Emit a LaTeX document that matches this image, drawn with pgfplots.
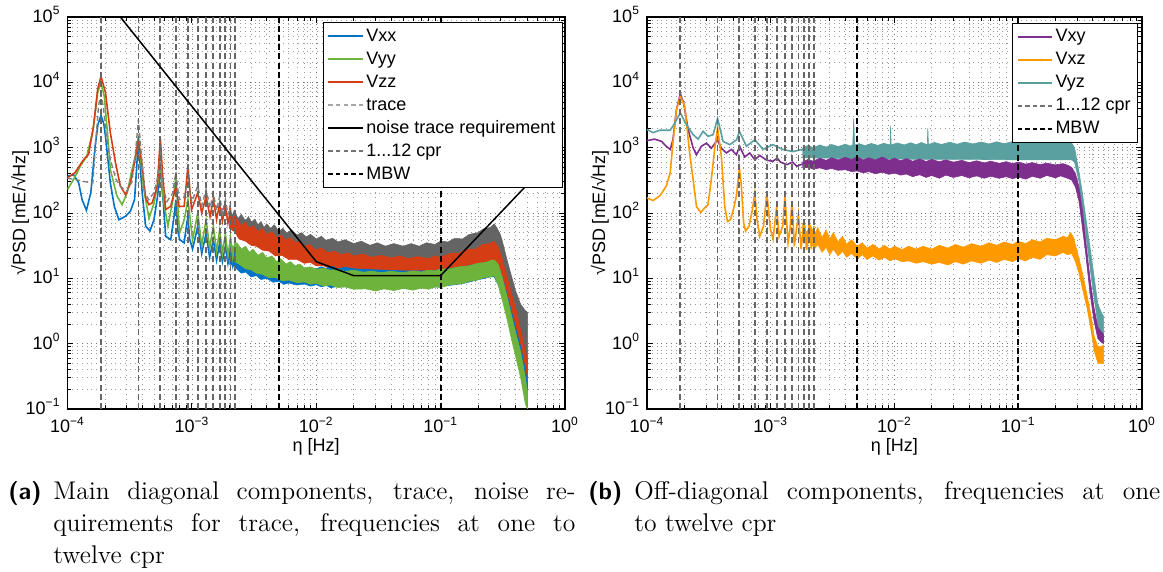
\documentclass[border=0pt]{standalone}
\usepackage{fontspec}
\usepackage{pgfplots}
\pgfplotsset{compat=1.18}
\newfontfamily\helv{Liberation Sans}
\definecolor{vxx}{RGB}{0,114,200}
\definecolor{vyy}{RGB}{110,180,60}
\definecolor{vzz}{RGB}{213,62,20}
\definecolor{trc}{RGB}{100,100,100}
\definecolor{vxy}{RGB}{126,47,142}
\definecolor{vxz}{RGB}{255,153,0}
\definecolor{vyz}{RGB}{90,160,160}
\begin{document}
\begin{tikzpicture}
\useasboundingbox (0,0) rectangle (581.5pt,286pt);
% ---------------- panel (a)
\begin{axis}[scale only axis, width=248.75pt, height=196pt, at={(33.75pt,81.5pt)}, anchor=south west,
  xmode=log, ymode=log, xmin=1e-4, xmax=1, ymin=1e-1, ymax=1e5,
  xtick={1e-4,1e-3,1e-2,1e-1,1},
  xticklabels={10\textsuperscript{−4},10\textsuperscript{−3},10\textsuperscript{−2},10\textsuperscript{−1},10\textsuperscript{0}},
  ytick={1e-1,1,10,100,1000,10000,100000},
  yticklabels={10\textsuperscript{−1},10\textsuperscript{0},10\textsuperscript{1},10\textsuperscript{2},10\textsuperscript{3},10\textsuperscript{4},10\textsuperscript{5}},
  minor xtick={2e-4,3e-4,4e-4,5e-4,6e-4,7e-4,8e-4,9e-4,2e-3,3e-3,4e-3,5e-3,6e-3,7e-3,8e-3,9e-3,2e-2,3e-2,4e-2,5e-2,6e-2,7e-2,8e-2,9e-2,0.2,0.3,0.4,0.5,0.6,0.7,0.8,0.9},
  minor ytick={0.2,0.3,0.4,0.5,0.6,0.7,0.8,0.9,2,3,4,5,6,7,8,9,20,30,40,50,60,70,80,90,200,300,400,500,600,700,800,900,2000,3000,4000,5000,6000,7000,8000,9000,20000,30000,40000,50000,60000,70000,80000,90000},
  grid=both,
  major grid style={dotted, black!55, line width=0.35pt},
  minor grid style={dotted, black!40, line width=0.35pt},
  tick align=inside, major tick length=3pt, minor tick length=1.8pt,
  tick style={black, line width=0.4pt},
  axis line style={line width=0.6pt},
  tick label style={font=\helv\fontsize{9}{10}\selectfont},
  xticklabel style={anchor=center, yshift=-8pt},
  yticklabel style={yshift=1.2pt},
  label style={font=\helv\fontsize{9}{10}\selectfont},
  xlabel={η [Hz]}, ylabel={√PSD [mE/√Hz]},
  xlabel style={at={(axis description cs:0.5,-0.097)}, anchor=center},
  ylabel style={at={(axis description cs:-0.095,0.5)}, anchor=center},
  legend cell align=left,
  legend style={at={(0.996,0.987)}, anchor=north east, draw=black, line width=0.5pt, fill=white,
    inner xsep=2pt, inner ysep=1pt, row sep=0pt,
    nodes={inner sep=1.5pt, text height=6.8pt, text depth=1.7pt},
    font=\helv\fontsize{9}{10}\selectfont}]
% trace band
\addplot[fill=trc, draw=trc, line width=0.3pt, forget plot] coordinates {
(2.0e-3,120)(2.1e-3,90)(2.2e-3,110)(2.35e-3,82)(2.5e-3,95)(2.7e-3,75)(2.85e-3,88)(3e-3,72)(3.2e-3,80)(3.4e-3,66)(3.6e-3,74)(3.8e-3,60)(4e-3,68)(4.3e-3,58)(4.6e-3,66)(5e-3,52)(5.4e-3,58)(5.8e-3,49)(6.3e-3,55)(7e-3,46)(7.6e-3,50)(8.3e-3,43)(9e-3,47)(1e-2,40)(1.1e-2,44)(1.2e-2,38)(1.35e-2,41)(1.5e-2,36)(1.7e-2,39)(2e-2,34)(2.3e-2,37)(2.7e-2,32)(3.1e-2,35)(3.6e-2,31)(4.2e-2,34)(5e-2,31)(5.8e-2,34)(6.7e-2,31)(7.7e-2,35)(9e-2,33)(0.1,37)(0.115,36)(0.13,41)(0.15,40)(0.17,47)(0.2,50)(0.22,57)(0.25,60)(0.27,68)(0.285,58)(0.3,48)(0.31,40)(0.34,20)(0.37,11)(0.4,6.5)(0.44,4)(0.48,3.2)(0.5,3)
(0.5,0.3)(0.48,0.5)(0.44,1.2)(0.4,2.5)(0.37,4)(0.34,7)(0.31,13)(0.29,19)(0.27,24)(0.25,24)(0.2,21)(0.15,18)(0.1,16)(5e-2,15.5)(2e-2,17)(1e-2,20)(5e-3,28)(3e-3,40)(2e-3,60)};
% Vzz band
\addplot[fill=vzz, draw=vzz, line width=0.3pt, forget plot] coordinates {
(2.0e-3,90)(2.15e-3,70)(2.3e-3,82)(2.5e-3,64)(2.7e-3,72)(2.9e-3,58)(3.1e-3,64)(3.4e-3,52)(3.7e-3,58)(4e-3,47)(4.4e-3,52)(4.8e-3,42)(5.2e-3,46)(5.7e-3,38)(6.2e-3,42)(6.8e-3,35)(7.4e-3,37)(8e-3,31)(8.8e-3,33)(1e-2,27)(1.1e-2,29)(1.25e-2,24.5)(1.4e-2,26)(1.6e-2,23)(1.8e-2,24.5)(2e-2,22)(2.4e-2,23.5)(2.8e-2,21)(3.3e-2,22.5)(4e-2,20.5)(4.7e-2,22)(5.5e-2,20)(6.5e-2,21.5)(8e-2,20)(9e-2,22)(0.1,21)(0.12,24)(0.14,24)(0.16,28)(0.19,28)(0.22,33)(0.25,34)(0.27,37)(0.29,30)(0.31,21)(0.34,11)(0.37,6)(0.4,3.5)(0.44,1.6)(0.48,0.8)(0.5,0.55)
(0.5,0.19)(0.48,0.3)(0.44,0.8)(0.4,1.6)(0.37,2.8)(0.34,5)(0.31,9.5)(0.29,14)(0.27,18)(0.25,17)(0.22,17)(0.2,15)(0.17,15)(0.15,13.5)(0.12,13.5)(0.1,12)(8.5e-2,12.5)(7e-2,11.5)(6e-2,12.3)(5e-2,11.5)(4.2e-2,12.3)(3.5e-2,11.8)(3e-2,12.8)(2.5e-2,12.2)(2e-2,13.2)(1.7e-2,13)(1.5e-2,14.2)(1.3e-2,14)(1.15e-2,15.5)(1e-2,15.5)(9e-3,17.5)(8e-3,17)(7e-3,19.5)(6e-3,19.5)(5.3e-3,22.5)(4.7e-3,22)(4.2e-3,26)(3.7e-3,27)(3.3e-3,31)(3e-3,32)(2.7e-3,37)(2.4e-3,40)(2.2e-3,52)(2e-3,58)};
% Vxx band
\addplot[fill=vxx, draw=vxx, line width=0.3pt, forget plot] coordinates {
(2.0e-3,28)(2.5e-3,25)(3e-3,22)(3.6e-3,19)(4e-3,18)(5e-3,16)(6e-3,15)(7e-3,14.5)(8e-3,14)(1e-2,14)(1.1e-2,15)(1.2e-2,14.2)(1.35e-2,15.2)(1.5e-2,14)(1.7e-2,14.8)(2e-2,14)(3e-2,13.5)(5e-2,13)(8e-2,13)(0.1,13.5)(0.15,15)(0.2,16.5)(0.25,18)(0.27,18.5)(0.29,16)(0.31,11)(0.34,6)(0.37,3.2)(0.4,1.8)(0.44,0.9)(0.48,0.4)(0.5,0.25)
(0.5,0.1)(0.48,0.14)(0.44,0.35)(0.4,0.8)(0.37,1.5)(0.34,3)(0.31,5.5)(0.29,8)(0.27,10.5)(0.25,10.5)(0.2,9.5)(0.15,8.3)(0.1,7.5)(8e-2,7.2)(5e-2,7)(3e-2,7)(2e-2,7.3)(1.5e-2,7.5)(1.3e-2,7.2)(1.2e-2,7.8)(1.1e-2,7.4)(1e-2,8)(9e-3,7.6)(8e-3,8.2)(7e-3,7.9)(6e-3,8.5)(5.5e-3,8.1)(5e-3,9)(4.5e-3,8.7)(4e-3,10)(3.6e-3,9.6)(3.3e-3,11)(3e-3,10.5)(2.7e-3,12.5)(2.5e-3,12)(2.2e-3,15)(2e-3,17)};
% Vyy band
\addplot[fill=vyy, draw=vyy, line width=0.3pt, forget plot] coordinates {
(2.0e-3,38)(2.15e-3,30)(2.3e-3,35)(2.5e-3,28)(2.7e-3,31)(2.9e-3,25)(3.1e-3,28)(3.4e-3,22.5)(3.7e-3,25)(4e-3,20.5)(4.4e-3,22)(4.8e-3,18)(5.2e-3,20)(5.7e-3,16.5)(6.2e-3,18)(6.8e-3,15.5)(7.4e-3,16.5)(8e-3,14.5)(9e-3,15)(1e-2,13.8)(1.15e-2,14.3)(1.3e-2,13.3)(1.5e-2,13.8)(1.7e-2,12.8)(2e-2,13.3)(2.4e-2,12.4)(2.8e-2,12.9)(3.3e-2,12.2)(4e-2,12.8)(5e-2,12.2)(6e-2,13)(7e-2,12.5)(8e-2,13.3)(9e-2,13)(0.1,13.8)(0.12,14)(0.14,15)(0.17,15.5)(0.2,17)(0.23,17.5)(0.26,19)(0.27,19)(0.29,16.5)(0.31,11)(0.34,5.5)(0.37,2.8)(0.4,1.5)(0.44,0.75)(0.48,0.3)(0.5,0.18)
(0.5,0.1)(0.48,0.12)(0.44,0.3)(0.4,0.65)(0.37,1.2)(0.34,2.5)(0.31,5)(0.29,8)(0.27,11)(0.25,10.5)(0.22,10.2)(0.2,9.5)(0.17,9)(0.15,8.3)(0.12,8)(0.1,7.2)(9e-2,7.4)(8e-2,6.8)(7e-2,7.1)(6e-2,6.6)(5e-2,7)(4.2e-2,6.5)(3.5e-2,6.9)(3e-2,6.4)(2.5e-2,6.9)(2e-2,6.8)(1.7e-2,7.4)(1.5e-2,7.2)(1.3e-2,7.9)(1.15e-2,7.6)(1e-2,8.4)(9e-3,8.1)(8e-3,8.8)(7e-3,8.6)(6e-3,9.4)(5.3e-3,9.2)(4.7e-3,10.3)(4.2e-3,10.2)(3.7e-3,11.5)(3.3e-3,12)(3e-3,13.5)(2.7e-3,14)(2.4e-3,16.5)(2.2e-3,18)(2e-3,24)};
% low-frequency lines
\addplot[vxx, line width=0.8pt, forget plot] coordinates {
(1.0e-4,365)(1.12e-4,385)(1.23e-4,290)(1.31e-4,160)(1.42e-4,110)(1.54e-4,205)(1.67e-4,1070)(1.76e-4,2300)(1.86e-4,3100)(1.96e-4,2300)(2.02e-4,1500)(2.21e-4,290)(2.38e-4,126)(2.59e-4,79)(2.93e-4,89)(3.21e-4,107)(3.46e-4,160)(3.6e-4,500)(3.72e-4,1450)(3.85e-4,500)(3.99e-4,200)(4.25e-4,63)(4.6e-4,53)(4.96e-4,79)(5.3e-4,180)(5.58e-4,500)(5.8e-4,200)(5.9e-4,140)(6.16e-4,44)(6.76e-4,39)(7.2e-4,90)(7.44e-4,160)(7.75e-4,50)(8.0e-4,39)(8.67e-4,35)(9.0e-4,60)(9.3e-4,89)(9.6e-4,40)(1.013e-3,28)(1.116e-3,63)(1.2e-3,24)(1.302e-3,49)(1.39e-3,21)(1.488e-3,39)(1.58e-3,19)(1.674e-3,35)(1.76e-3,18)(1.86e-3,31)(1.95e-3,17)(2.046e-3,28)(2.13e-3,16)(2.23e-3,26)};
\addplot[vyy, line width=0.8pt, forget plot] coordinates {
(1.0e-4,230)(1.12e-4,325)(1.27e-4,525)(1.43e-4,740)(1.6e-4,1800)(1.75e-4,7000)(1.86e-4,10000)(1.98e-4,6000)(2.1e-4,1600)(2.21e-4,465)(2.5e-4,182)(2.75e-4,134)(3.02e-4,205)(3.31e-4,465)(3.6e-4,900)(3.72e-4,1200)(3.9e-4,600)(4.07e-4,255)(4.52e-4,83)(4.96e-4,141)(5.33e-4,290)(5.58e-4,465)(5.9e-4,160)(6.42e-4,63)(7.0e-4,150)(7.44e-4,345)(7.97e-4,49)(8.7e-4,80)(9.3e-4,160)(1.013e-3,39)(1.116e-3,100)(1.2e-3,32)(1.302e-3,79)(1.39e-3,29)(1.488e-3,63)(1.58e-3,26)(1.674e-3,55)(1.76e-3,24)(1.86e-3,48)(1.95e-3,22)(2.046e-3,42)(2.13e-3,21)(2.23e-3,38)};
\addplot[vzz, line width=0.8pt, forget plot] coordinates {
(1.0e-4,345)(1.15e-4,415)(1.35e-4,660)(1.48e-4,790)(1.62e-4,2150)(1.75e-4,7900)(1.86e-4,12400)(2.02e-4,7000)(2.21e-4,1700)(2.43e-4,590)(2.66e-4,260)(2.93e-4,190)(3.21e-4,290)(3.46e-4,590)(3.72e-4,1350)(3.99e-4,520)(4.25e-4,170)(4.52e-4,134)(4.8e-4,143)(5.27e-4,256)(5.58e-4,1400)(5.8e-4,415)(6.16e-4,113)(6.75e-4,126)(7.44e-4,250)(7.9e-4,126)(8.67e-4,126)(9.3e-4,525)(9.94e-4,112)(1.116e-3,205)(1.2e-3,100)(1.302e-3,180)(1.4e-3,88)(1.488e-3,160)(1.58e-3,80)(1.674e-3,140)(1.76e-3,75)(1.86e-3,130)(1.95e-3,70)(2.046e-3,110)(2.13e-3,62)(2.23e-3,95)};
\addplot[black!50, line width=0.7pt, dash pattern=on 2.5pt off 1.5pt, forget plot] coordinates {
(1.0e-4,340)(1.2e-4,320)(1.4e-4,300)(1.6e-4,290)(1.7e-4,1500)(1.78e-4,4500)(1.86e-4,6500)(1.95e-4,4000)(2.05e-4,1500)(2.21e-4,660)(2.45e-4,330)(2.66e-4,257)(3.0e-4,215)(3.3e-4,300)(3.55e-4,1000)(3.72e-4,2700)(3.9e-4,900)(4.2e-4,200)(4.5e-4,160)(4.96e-4,205)(5.3e-4,350)(5.58e-4,750)(5.85e-4,250)(6.3e-4,150)(7.0e-4,200)(7.44e-4,420)(7.9e-4,160)(8.6e-4,170)(9.3e-4,300)(1.0e-3,150)(1.116e-3,260)(1.2e-3,130)(1.302e-3,230)(1.4e-3,120)(1.488e-3,200)(1.58e-3,110)(1.674e-3,180)(1.76e-3,100)(1.86e-3,160)(1.95e-3,95)(2.05e-3,140)};
% cpr lines
\addplot[black!60, line width=0.9pt, dash pattern=on 3pt off 1.6pt, forget plot] coordinates {(1.86e-4,0.1)(1.86e-4,1e5)};
\addplot[black!60, line width=0.9pt, dash pattern=on 3pt off 1.6pt, forget plot] coordinates {(3.72e-4,0.1)(3.72e-4,1e5)};
\addplot[black!60, line width=0.9pt, dash pattern=on 3pt off 1.6pt, forget plot] coordinates {(5.58e-4,0.1)(5.58e-4,1e5)};
\addplot[black!60, line width=0.9pt, dash pattern=on 3pt off 1.6pt, forget plot] coordinates {(7.44e-4,0.1)(7.44e-4,1e5)};
\addplot[black!60, line width=0.9pt, dash pattern=on 3pt off 1.6pt, forget plot] coordinates {(9.30e-4,0.1)(9.30e-4,1e5)};
\addplot[black!60, line width=0.9pt, dash pattern=on 3pt off 1.6pt, forget plot] coordinates {(1.116e-3,0.1)(1.116e-3,1e5)};
\addplot[black!60, line width=0.9pt, dash pattern=on 3pt off 1.6pt, forget plot] coordinates {(1.302e-3,0.1)(1.302e-3,1e5)};
\addplot[black!60, line width=0.9pt, dash pattern=on 3pt off 1.6pt, forget plot] coordinates {(1.488e-3,0.1)(1.488e-3,1e5)};
\addplot[black!60, line width=0.9pt, dash pattern=on 3pt off 1.6pt, forget plot] coordinates {(1.674e-3,0.1)(1.674e-3,1e5)};
\addplot[black!60, line width=0.9pt, dash pattern=on 3pt off 1.6pt, forget plot] coordinates {(1.86e-3,0.1)(1.86e-3,1e5)};
\addplot[black!60, line width=0.9pt, dash pattern=on 3pt off 1.6pt, forget plot] coordinates {(2.046e-3,0.1)(2.046e-3,1e5)};
\addplot[black!60, line width=0.9pt, dash pattern=on 3pt off 1.6pt, forget plot] coordinates {(2.232e-3,0.1)(2.232e-3,1e5)};
% MBW lines
\addplot[black, line width=1pt, dash pattern=on 3pt off 1.6pt, forget plot] coordinates {(5e-3,0.1)(5e-3,1e5)};
\addplot[black, line width=1pt, dash pattern=on 3pt off 1.6pt, forget plot] coordinates {(1e-1,0.1)(1e-1,1e5)};
% requirement
\addplot[black, line width=0.75pt, forget plot] coordinates {(2.66e-4,1e5)(1e-2,18)(2e-2,11)(0.1,11)(0.5,275)};
\addlegendimage{vxx, line width=0.8pt}\addlegendentry{Vxx}
\addlegendimage{vyy, line width=0.8pt}\addlegendentry{Vyy}
\addlegendimage{vzz, line width=0.8pt}\addlegendentry{Vzz}
\addlegendimage{black!35, line width=0.7pt, dash pattern=on 2.2pt off 1.6pt}\addlegendentry{trace}
\addlegendimage{black, line width=0.7pt}\addlegendentry{noise trace requirement}
\addlegendimage{black!55, line width=0.7pt, dash pattern=on 2.2pt off 1.6pt}\addlegendentry{1...12 cpr}
\addlegendimage{black, line width=0.7pt, dash pattern=on 2.2pt off 1.6pt}\addlegendentry{MBW}
\end{axis}
% ---------------- panel (b)
\begin{axis}[scale only axis, width=247.5pt, height=196pt, at={(323.5pt,81.5pt)}, anchor=south west,
  xmode=log, ymode=log, xmin=1e-4, xmax=1, ymin=1e-1, ymax=1e5,
  xtick={1e-4,1e-3,1e-2,1e-1,1},
  xticklabels={10\textsuperscript{−4},10\textsuperscript{−3},10\textsuperscript{−2},10\textsuperscript{−1},10\textsuperscript{0}},
  ytick={1e-1,1,10,100,1000,10000,100000},
  yticklabels={10\textsuperscript{−1},10\textsuperscript{0},10\textsuperscript{1},10\textsuperscript{2},10\textsuperscript{3},10\textsuperscript{4},10\textsuperscript{5}},
  minor xtick={2e-4,3e-4,4e-4,5e-4,6e-4,7e-4,8e-4,9e-4,2e-3,3e-3,4e-3,5e-3,6e-3,7e-3,8e-3,9e-3,2e-2,3e-2,4e-2,5e-2,6e-2,7e-2,8e-2,9e-2,0.2,0.3,0.4,0.5,0.6,0.7,0.8,0.9},
  minor ytick={0.2,0.3,0.4,0.5,0.6,0.7,0.8,0.9,2,3,4,5,6,7,8,9,20,30,40,50,60,70,80,90,200,300,400,500,600,700,800,900,2000,3000,4000,5000,6000,7000,8000,9000,20000,30000,40000,50000,60000,70000,80000,90000},
  grid=both,
  major grid style={dotted, black!55, line width=0.35pt},
  minor grid style={dotted, black!40, line width=0.35pt},
  tick align=inside, major tick length=3pt, minor tick length=1.8pt,
  tick style={black, line width=0.4pt},
  axis line style={line width=0.6pt},
  tick label style={font=\helv\fontsize{9}{10}\selectfont},
  xticklabel style={anchor=center, yshift=-8pt},
  yticklabel style={yshift=1.2pt},
  label style={font=\helv\fontsize{9}{10}\selectfont},
  xlabel={η [Hz]}, ylabel={√PSD [mE/√Hz]},
  xlabel style={at={(axis description cs:0.5,-0.097)}, anchor=center},
  ylabel style={at={(axis description cs:-0.095,0.5)}, anchor=center},
  legend cell align=left,
  legend style={at={(0.992,0.985)}, anchor=north east, draw=black, line width=0.5pt, fill=white,
    inner xsep=2pt, inner ysep=1pt, row sep=0pt,
    nodes={inner sep=1.5pt, text height=6.8pt, text depth=1.7pt},
    font=\helv\fontsize{9}{10}\selectfont}]
% Vyz band
\addplot[fill=vyz, draw=vyz, line width=0.3pt, forget plot] coordinates {
(1.8e-3,980)(2e-3,1080)(2.2e-3,1000)(2.5e-3,1100)(2.8e-3,1020)(3.1e-3,1120)(3.5e-3,1040)(4e-3,1130)(4.4e-3,1060)(4.6e-3,1100)(4.68e-3,2800)(4.76e-3,1100)(5.2e-3,1150)(5.8e-3,1070)(6.5e-3,1160)(7.3e-3,1080)(8.2e-3,1170)(9.2e-3,1090)(9.3e-3,2150)(9.4e-3,1100)(1.05e-2,1180)(1.2e-2,1100)(1.35e-2,1190)(1.5e-2,1110)(1.65e-2,1200)(1.84e-2,1110)(1.86e-2,2000)(1.88e-2,1120)(2.1e-2,1200)(2.4e-2,1120)(2.8e-2,1210)(3.2e-2,1130)(3.7e-2,1220)(4.3e-2,1140)(5e-2,1220)(5.8e-2,1140)(6.7e-2,1230)(7.7e-2,1150)(9e-2,1240)(0.1,1160)(0.115,1250)(0.13,1170)(0.15,1250)(0.17,1180)(0.2,1260)(0.22,1180)(0.25,1250)(0.27,1180)(0.285,1000)(0.31,420)(0.33,200)(0.35,90)(0.38,30)(0.40,15)(0.44,4)(0.47,3)(0.49,2.6)
(0.49,1.1)(0.47,1.3)(0.44,2)(0.40,7)(0.38,15)(0.35,50)(0.33,120)(0.31,300)(0.285,600)(0.27,650)(0.2,650)(0.1,650)(5e-2,660)(2e-2,660)(1e-2,670)(5e-3,680)(3e-3,690)(1.8e-3,700)};
% Vxy band
\addplot[fill=vxy, draw=vxy, line width=0.3pt, forget plot] coordinates {
(1.8e-3,600)(2e-3,660)(2.2e-3,620)(2.5e-3,690)(2.8e-3,640)(3.1e-3,700)(3.5e-3,650)(4e-3,710)(4.5e-3,660)(5e-3,720)(5.6e-3,650)(6.2e-3,700)(7e-3,650)(8e-3,720)(9e-3,640)(1e-2,690)(1.12e-2,630)(1.25e-2,680)(1.4e-2,620)(1.6e-2,670)(1.8e-2,615)(2e-2,660)(2.3e-2,610)(2.6e-2,650)(3e-2,600)(3.5e-2,640)(4e-2,590)(4.6e-2,630)(5.3e-2,585)(6e-2,620)(7e-2,575)(8e-2,610)(9e-2,570)(0.1,600)(0.115,560)(0.13,590)(0.15,550)(0.17,580)(0.2,545)(0.23,570)(0.25,540)(0.27,500)(0.29,400)(0.31,250)(0.33,110)(0.35,40)(0.38,10)(0.41,3.5)(0.44,1.8)(0.47,1.5)(0.49,1.4)
(0.49,1.0)(0.47,1.05)(0.44,1.2)(0.41,2.2)(0.38,6)(0.35,25)(0.33,60)(0.31,150)(0.29,250)(0.27,320)(0.25,340)(0.22,370)(0.2,345)(0.17,375)(0.15,340)(0.13,365)(0.115,330)(0.1,355)(9e-2,335)(8e-2,360)(7e-2,340)(6e-2,365)(5.3e-2,340)(4.6e-2,370)(4e-2,345)(3.5e-2,375)(3e-2,350)(2.6e-2,380)(2.3e-2,340)(2e-2,375)(1.8e-2,350)(1.6e-2,385)(1.4e-2,360)(1.25e-2,395)(1.12e-2,380)(1e-2,410)(9e-3,390)(8e-3,420)(7e-3,400)(6.2e-3,430)(5.6e-3,410)(5e-3,440)(4.5e-3,430)(4e-3,460)(3.5e-3,450)(3.1e-3,480)(2.8e-3,460)(2.5e-3,490)(2.2e-3,470)(2e-3,500)(1.8e-3,490)};
% Vxz band
\addplot[fill=vxz, draw=vxz, line width=0.3pt, forget plot] coordinates {
(1.8e-3,70)(1.95e-3,50)(2.1e-3,65)(2.25e-3,46)(2.4e-3,60)(2.6e-3,42)(2.8e-3,55)(3e-3,40)(3.2e-3,50)(3.5e-3,36)(3.8e-3,44)(4.1e-3,33)(4.5e-3,39)(5e-3,31)(5.5e-3,35)(6e-3,29)(6.7e-3,33)(7.5e-3,28)(8.3e-3,32)(9.2e-3,28)(1e-2,31)(1.15e-2,27.5)(1.3e-2,31)(1.5e-2,28)(1.7e-2,31)(2e-2,28)(2.3e-2,32)(2.7e-2,29)(3.1e-2,33)(3.6e-2,30)(4.2e-2,34)(5e-2,31)(5.8e-2,35)(6.7e-2,32)(7.7e-2,36)(9e-2,33)(0.1,37)(0.115,34)(0.13,39)(0.15,36)(0.17,41)(0.2,39)(0.23,44)(0.25,42)(0.265,50)(0.28,42)(0.29,32)(0.31,20)(0.33,12)(0.36,5.5)(0.39,2.5)(0.41,1.3)(0.44,0.9)(0.47,0.9)(0.49,0.95)
(0.49,0.5)(0.47,0.5)(0.44,0.5)(0.41,0.8)(0.39,1.5)(0.36,3.5)(0.33,7)(0.31,12)(0.29,18)(0.27,24)(0.25,23)(0.23,25)(0.2,22)(0.17,23)(0.15,19.5)(0.13,21)(0.115,18.5)(0.1,20)(9e-2,18)(7.7e-2,19.5)(6.7e-2,17.5)(5.8e-2,19)(5e-2,17)(4.2e-2,18.5)(3.6e-2,16.5)(3.1e-2,18)(2.7e-2,16)(2.3e-2,17.5)(2e-2,16.5)(1.7e-2,18)(1.5e-2,17)(1.3e-2,18.5)(1.15e-2,18)(1e-2,20)(9.2e-3,18.5)(8.3e-3,21)(7.5e-3,19)(6.7e-3,22)(6e-3,19.5)(5.5e-3,23)(5e-3,20)(4.5e-3,24)(4.1e-3,21)(3.8e-3,26)(3.5e-3,22)(3.2e-3,28)(3e-3,23)(2.8e-3,30)(2.6e-3,25)(2.4e-3,33)(2.25e-3,28)(2.1e-3,38)(1.95e-3,32)(1.8e-3,40)};
% low-frequency lines
\addplot[vxy, line width=0.8pt, forget plot] coordinates {
(1.0e-4,1280)(1.15e-4,1350)(1.31e-4,1250)(1.43e-4,1050)(1.54e-4,940)(1.62e-4,1320)(1.73e-4,3800)(1.86e-4,6700)(1.98e-4,4800)(2.15e-4,1900)(2.36e-4,990)(2.51e-4,780)(2.75e-4,1050)(3.02e-4,1170)(3.31e-4,980)(3.64e-4,1250)(3.72e-4,1300)(3.99e-4,980)(4.38e-4,830)(4.81e-4,940)(5.28e-4,780)(5.6e-4,1050)(6.16e-4,720)(6.76e-4,830)(7.44e-4,655)(8.15e-4,760)(9.3e-4,640)(1.04e-3,620)(1.13e-3,690)(1.2e-3,600)(1.35e-3,550)(1.5e-3,600)(1.62e-3,520)(1.8e-3,560)(2.0e-3,510)};
\addplot[vxz, line width=0.8pt, forget plot] coordinates {
(1.0e-4,170)(1.12e-4,155)(1.27e-4,183)(1.43e-4,257)(1.54e-4,410)(1.62e-4,1180)(1.73e-4,3800)(1.86e-4,6100)(2.02e-4,4300)(2.21e-4,830)(2.36e-4,325)(2.51e-4,126)(2.72e-4,102)(2.93e-4,120)(3.11e-4,134)(3.31e-4,325)(3.52e-4,940)(3.72e-4,2000)(3.99e-4,740)(4.25e-4,126)(4.47e-4,74)(4.72e-4,79)(4.96e-4,107)(5.28e-4,183)(5.58e-4,490)(5.79e-4,257)(6.04e-4,71)(6.26e-4,53)(6.68e-4,63)(7.11e-4,112)(7.44e-4,205)(7.75e-4,79)(8.15e-4,44)(8.74e-4,63)(9.3e-4,200)(9.94e-4,56)(1.044e-3,40)(1.116e-3,126)(1.168e-3,44)(1.25e-3,63)(1.302e-3,183)(1.38e-3,35)(1.43e-3,56)(1.488e-3,150)(1.55e-3,31)(1.674e-3,95)(1.76e-3,28)(1.86e-3,80)(1.95e-3,27)(2.046e-3,71)(2.13e-3,28)(2.23e-3,63)};
\addplot[vyz, line width=0.8pt, forget plot] coordinates {
(1.0e-4,1890)(1.12e-4,1700)(1.27e-4,1850)(1.54e-4,1850)(1.62e-4,2130)(1.86e-4,3400)(2.08e-4,2250)(2.36e-4,1580)(2.59e-4,1350)(2.84e-4,1780)(3.11e-4,1490)(3.42e-4,1580)(3.72e-4,2800)(4.12e-4,1250)(4.66e-4,1110)(5.3e-4,1320)(5.58e-4,1780)(6.36e-4,1050)(7.44e-4,1320)(8.67e-4,940)(1.04e-3,1110)(1.25e-3,940)(1.5e-3,870)(1.8e-3,940)(2.0e-3,900)};
% cpr lines
\addplot[black!60, line width=0.9pt, dash pattern=on 3pt off 1.6pt, forget plot] coordinates {(1.86e-4,0.1)(1.86e-4,1e5)};
\addplot[black!60, line width=0.9pt, dash pattern=on 3pt off 1.6pt, forget plot] coordinates {(3.72e-4,0.1)(3.72e-4,1e5)};
\addplot[black!60, line width=0.9pt, dash pattern=on 3pt off 1.6pt, forget plot] coordinates {(5.58e-4,0.1)(5.58e-4,1e5)};
\addplot[black!60, line width=0.9pt, dash pattern=on 3pt off 1.6pt, forget plot] coordinates {(7.44e-4,0.1)(7.44e-4,1e5)};
\addplot[black!60, line width=0.9pt, dash pattern=on 3pt off 1.6pt, forget plot] coordinates {(9.30e-4,0.1)(9.30e-4,1e5)};
\addplot[black!60, line width=0.9pt, dash pattern=on 3pt off 1.6pt, forget plot] coordinates {(1.116e-3,0.1)(1.116e-3,1e5)};
\addplot[black!60, line width=0.9pt, dash pattern=on 3pt off 1.6pt, forget plot] coordinates {(1.302e-3,0.1)(1.302e-3,1e5)};
\addplot[black!60, line width=0.9pt, dash pattern=on 3pt off 1.6pt, forget plot] coordinates {(1.488e-3,0.1)(1.488e-3,1e5)};
\addplot[black!60, line width=0.9pt, dash pattern=on 3pt off 1.6pt, forget plot] coordinates {(1.674e-3,0.1)(1.674e-3,1e5)};
\addplot[black!60, line width=0.9pt, dash pattern=on 3pt off 1.6pt, forget plot] coordinates {(1.86e-3,0.1)(1.86e-3,1e5)};
\addplot[black!60, line width=0.9pt, dash pattern=on 3pt off 1.6pt, forget plot] coordinates {(2.046e-3,0.1)(2.046e-3,1e5)};
\addplot[black!60, line width=0.9pt, dash pattern=on 3pt off 1.6pt, forget plot] coordinates {(2.232e-3,0.1)(2.232e-3,1e5)};
% MBW lines
\addplot[black, line width=1pt, dash pattern=on 3pt off 1.6pt, forget plot] coordinates {(5e-3,0.1)(5e-3,1e5)};
\addplot[black, line width=1pt, dash pattern=on 3pt off 1.6pt, forget plot] coordinates {(1e-1,0.1)(1e-1,1e5)};
\addlegendimage{vxy, line width=0.8pt}\addlegendentry{Vxy}
\addlegendimage{vxz, line width=0.8pt}\addlegendentry{Vxz}
\addlegendimage{vyz, line width=0.8pt}\addlegendentry{Vyz}
\addlegendimage{black!55, line width=0.7pt, dash pattern=on 2.2pt off 1.6pt}\addlegendentry{1...12 cpr}
\addlegendimage{black, line width=0.7pt, dash pattern=on 2.2pt off 1.6pt}\addlegendentry{MBW}
\end{axis}
% ---------------- captions
\node[anchor=base west, inner sep=0pt] at (4pt,36pt) {\sffamily\bfseries\fontsize{12}{14}\selectfont (a)};
\node[anchor=base west, inner sep=0pt] at (26.5pt,36pt) {\fontsize{12.8}{16}\selectfont\makebox[261pt][s]{Main diagonal components, trace, noise re-}};
\node[anchor=base west, inner sep=0pt] at (26.5pt,20pt) {\fontsize{12.8}{16}\selectfont\makebox[261pt][s]{quirements for trace, frequencies at one to}};
\node[anchor=base west, inner sep=0pt] at (26.5pt,4pt) {\fontsize{12.8}{16}\selectfont twelve cpr};
\node[anchor=base west, inner sep=0pt] at (294pt,36pt) {\sffamily\bfseries\fontsize{12}{14}\selectfont (b)};
\node[anchor=base west, inner sep=0pt] at (317pt,36pt) {\fontsize{12.8}{16}\selectfont\makebox[263pt][s]{Off-diagonal components, frequencies at one}};
\node[anchor=base west, inner sep=0pt] at (317pt,20pt) {\fontsize{12.8}{16}\selectfont to twelve cpr};
\end{tikzpicture}
\end{document}
